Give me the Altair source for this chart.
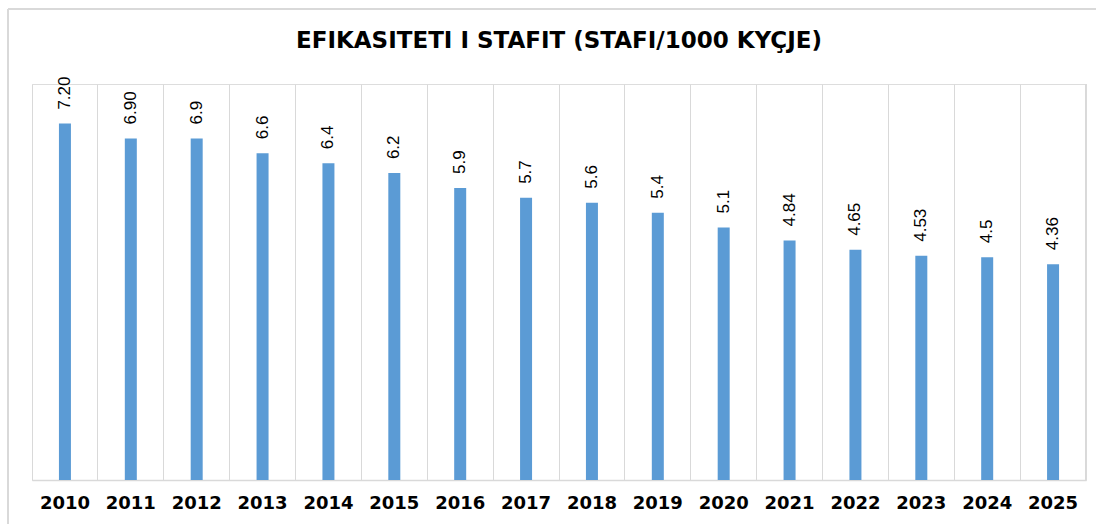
import altair as alt
import pandas as pd

years = ["2010", "2011", "2012", "2013", "2014", "2015", "2016", "2017",
         "2018", "2019", "2020", "2021", "2022", "2023", "2024", "2025"]
values = [7.20, 6.90, 6.9, 6.6, 6.4, 6.2, 5.9, 5.7, 5.6, 5.4, 5.1, 4.84, 4.65, 4.53, 4.5, 4.36]
labels = ["7.20", "6.90", "6.9", "6.6", "6.4", "6.2", "5.9", "5.7", "5.6", "5.4",
          "5.1", "4.84", "4.65", "4.53", "4.5", "4.36"]
title_text = "EFIKASITETI I STAFIT (STAFI/1000 KYÇJE)"

df = pd.DataFrame({"year": years, "value": values, "label": labels})

W, H = 1054, 396
GRID = "#d9d9d9"

x = alt.X("year:N", sort=years,
          scale=alt.Scale(paddingInner=0, paddingOuter=0),
          axis=alt.Axis(title=None, labelAngle=0, ticks=False, grid=True,
                        bandPosition=0, gridColor=GRID, gridWidth=1,
                        domainColor=GRID, domainWidth=1.5,
                        labelFont="DejaVu Sans", labelFontWeight="bold",
                        labelFontSize=18, labelColor="#000000", labelPadding=14))
y = alt.Y("value:Q", scale=alt.Scale(domain=[0, 8], nice=False), axis=None)

bars = alt.Chart(df).mark_bar(size=12, color="#5b9bd5").encode(x=x, y=y)

text = alt.Chart(df).mark_text(angle=270, align="left", baseline="middle", dx=14,
                               font="Liberation Sans", fontSize=17,
                               color="#000000").encode(
    x=alt.X("year:N", sort=years), y="value:Q", text="label:N")

right_edge = alt.Chart(df).mark_rule(color=GRID, strokeWidth=1).encode(
    x=alt.value(W), y=alt.value(0), y2=alt.value(H))

border_top = alt.Chart(df).mark_rule(color=GRID, strokeWidth=1.5).encode(
    x=alt.value(-24), x2=alt.value(1070), y=alt.value(-75))
border_left = alt.Chart(df).mark_rule(color=GRID, strokeWidth=1.5).encode(
    x=alt.value(-24), y=alt.value(-75), y2=alt.value(450))

chart = alt.layer(bars, text, right_edge, border_top, border_left).properties(
    width=W, height=H,
    title=alt.TitleParams(title_text, font="DejaVu Sans", fontSize=23,
                          fontWeight="bold", color="#000000", anchor="middle",
                          baseline="alphabetic", offset=-63),
    autosize=alt.AutoSizeParams(type="none"),
    padding={"left": 32, "top": 84, "right": 10, "bottom": 44},
).configure_view(stroke=None).configure(background="white")

chart.save("out.html", embed_options={"renderer": "svg", "actions": False})
